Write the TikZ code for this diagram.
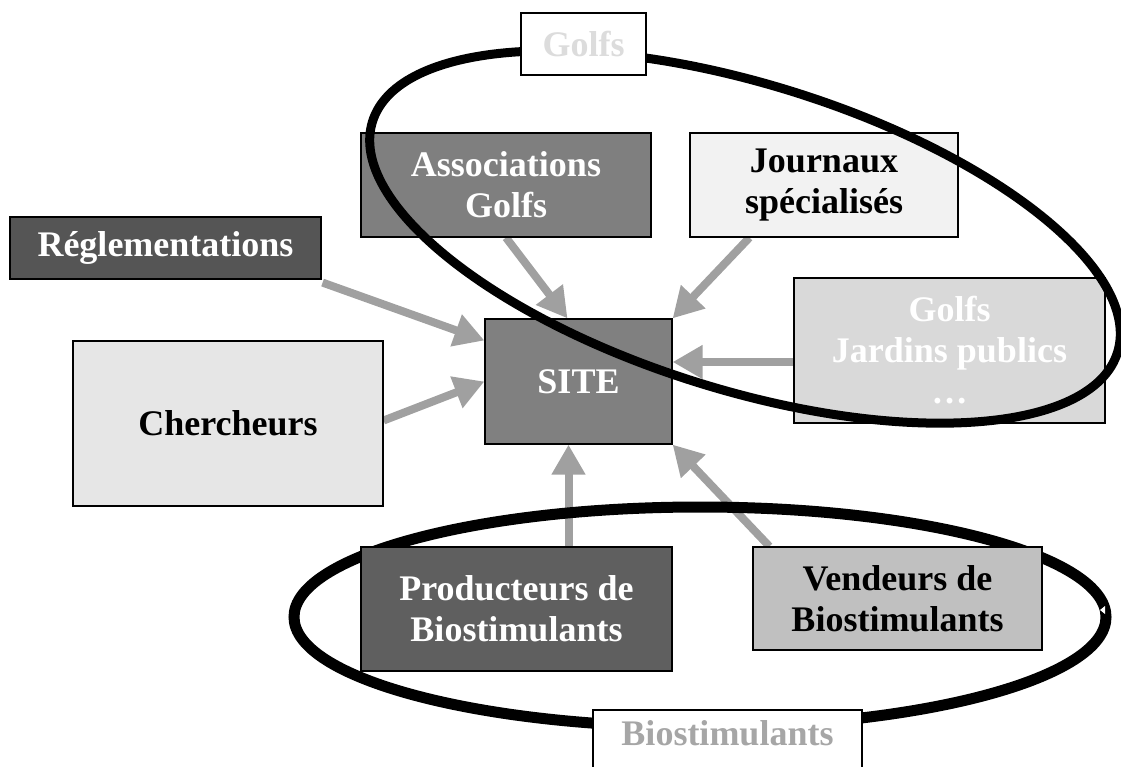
\documentclass[tikz,border=0pt]{standalone}
\usepackage{fontspec}
\setmainfont{Liberation Serif}
\usepackage{tikz}
\usetikzlibrary{arrows.meta,positioning,shapes}
\definecolor{arrowgray}{HTML}{A0A0A0}
\definecolor{reglfill}{HTML}{555555}
\definecolor{assocfill}{HTML}{7F7F7F}
\definecolor{sitefill}{HTML}{808080}
\definecolor{journfill}{HTML}{F2F2F2}
\definecolor{cherchfill}{HTML}{E6E6E6}
\definecolor{publicfill}{HTML}{D9D9D9}
\definecolor{prodfill}{HTML}{5F5F5F}
\definecolor{vendfill}{HTML}{C0C0C0}
\definecolor{golfstext}{HTML}{DCDCDC}
\definecolor{biotext}{HTML}{A6A6A6}
\pgfdeclarelayer{back}
\pgfsetlayers{back,main}
\tikzstyle{block}=[draw, rectangle, line width=1.2pt, align=center, inner sep=0pt,
  font=\bfseries\fontsize{36}{41}\selectfont]
\tikzstyle{tag}=[block, fill=white]
\tikzstyle{flow}=[draw=arrowgray, line width=8pt, -{Triangle[length=30pt,width=32pt]}]

\begin{document}
\begin{tikzpicture}[x=1pt, y=-1pt]
\useasboundingbox (0,0) rectangle (1121,767);
% boxes
\node [block, fill=reglfill, text=white, minimum width=311pt, minimum height=62pt] (regl) at (165.5,248) {Réglementations};
\node [block, fill=cherchfill, minimum width=310pt, minimum height=165pt] (cherch) at (228,423.5) {Chercheurs};
\node [block, fill=assocfill, text=white, minimum width=290pt, minimum height=104pt] (assoc) at (506,185) {Associations\\Golfs};
\node [block, fill=journfill, minimum width=268pt, minimum height=104pt] (journ) at (824,185) {Journaux\\spécialisés};
\node [block, fill=sitefill, text=white, minimum width=187pt, minimum height=125pt] (site) at (578.5,381.5) {SITE};
\node [block, fill=publicfill, text=white, minimum width=311pt, minimum height=145pt] (public) at (949.5,350.5) {Golfs\\Jardins publics\\…};
\node [block, fill=prodfill, text=white, minimum width=311pt, minimum height=124pt] (prod) at (516.5,609) {Producteurs de\\Biostimulants};
\node [block, fill=vendfill, minimum width=289pt, minimum height=103pt] (vend) at (897.5,598.5) {Vendeurs de\\Biostimulants};

% arrows to the site
\begin{pgfonlayer}{back}
\draw [flow] ([xshift=1pt,yshift=-3pt]regl.south east) -- ([yshift=41pt]site.west);
\draw [flow] ([yshift=3pt]cherch.east) -- (site.west);
\draw [flow] (assoc.south) -- ([xshift=-11pt]site.north);
\draw [flow] ([xshift=60pt]journ.south west) -- (site.north east);
\draw [flow] ([yshift=-11.5pt]public.west) -- ([yshift=19.5pt]site.east);
\draw [flow] ([xshift=52pt]prod.north) -- ([xshift=-10pt]site.south);
\draw [flow] ([xshift=17pt]vend.north west) -- (site.south east);
% biostimulants group
\draw [line width=11pt] (700,617) ellipse [x radius=406pt, y radius=110pt];
\fill [white] (1100,610) -- (1105,606) -- (1105,614) -- cycle;
\end{pgfonlayer}

% golfs group
\draw [line width=9pt, rotate around={-17.2:(745,237)}] (745,237) ellipse [x radius=390pt, y radius=153pt];

\node [tag, text=golfstext, minimum width=125pt, minimum height=62pt] (golfs) at (583.5,44) {Golfs};
\node [tag, text=biotext, minimum width=269pt, minimum height=58pt, text height=24pt, text depth=12pt] (bio) at (727.5,739) {Biostimulants};
\end{tikzpicture}
\end{document}
